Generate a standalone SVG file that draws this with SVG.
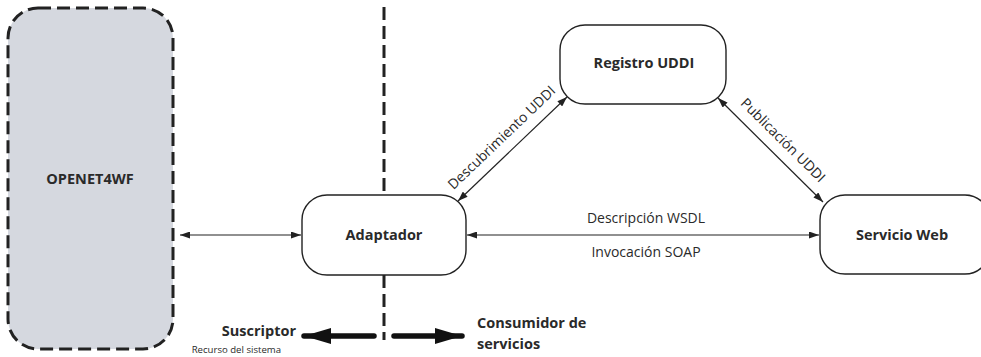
<svg xmlns="http://www.w3.org/2000/svg" width="981" height="357" viewBox="0 0 981 357">
<defs>
<style>
text{font-family:"Open Sans","Noto Sans","DejaVu Sans",sans-serif;fill:#2a2a2a}
.b{font-weight:bold;font-size:14.5px}
.r{font-size:14px}
.node{fill:#fff;stroke:#222;stroke-width:1.4}
.conn{stroke:#222;stroke-width:1.2;fill:none;marker-start:url(#ah);marker-end:url(#ah)}
.dash{stroke:#222;stroke-width:3;stroke-dasharray:13 6;fill:none}
.role{font-weight:bold;font-size:14.5px}
</style>
<marker id="ah" viewBox="0 0 10 10" refX="10" refY="5" markerWidth="10" markerHeight="7" markerUnits="userSpaceOnUse" orient="auto-start-reverse" preserveAspectRatio="none">
<path d="M0,0 L10,5 L0,10 Z" fill="#222"/>
</marker>
<marker id="big" viewBox="0 0 10 10" refX="10" refY="5" markerWidth="27" markerHeight="16" markerUnits="userSpaceOnUse" orient="auto" preserveAspectRatio="none">
<path d="M0,0 L10,5 L0,10 Z" fill="#111"/>
</marker>
</defs>

<g id="openet">
<rect x="8" y="8" width="165" height="341" rx="30" fill="#d5d8df" stroke="#222" stroke-width="3" stroke-dasharray="13 6"/>
<text class="b" x="90" y="184" text-anchor="middle">OPENET4WF</text>
</g>

<g id="divider">
<line class="dash" x1="384" y1="7" x2="384" y2="195"/>
<line class="dash" x1="384" y1="275" x2="384" y2="340"/>
</g>

<g id="adaptador">
<rect class="node" x="302" y="195" width="164" height="80" rx="25"/>
<text class="b" x="384" y="240" text-anchor="middle">Adaptador</text>
</g>

<g id="registro">
<rect class="node" x="560" y="25" width="166" height="79" rx="25"/>
<text class="b" x="644" y="68" text-anchor="middle">Registro UDDI</text>
</g>

<g id="servicio">
<rect class="node" x="820" y="195" width="170" height="79" rx="25"/>
<text class="b" x="902" y="240" text-anchor="middle">Servicio Web</text>
</g>

<g id="connectors">
<line class="conn" x1="180" y1="235" x2="301" y2="235"/>
<line class="conn" x1="467" y1="235" x2="819" y2="235"/>
<line class="conn" x1="458" y1="201" x2="567" y2="97"/>
<line class="conn" x1="718" y1="98" x2="823" y2="202"/>
<text class="r" x="646" y="223" text-anchor="middle">Descripción WSDL</text>
<text class="r" x="646" y="257" text-anchor="middle">Invocación SOAP</text>
<text class="r" transform="translate(512.5,149) rotate(-43.7)" x="0" y="-11" text-anchor="middle">Descubrimiento UDDI</text>
<text class="r" transform="translate(770.5,150) rotate(44.7)" x="2" y="-11" text-anchor="middle">Publicación UDDI</text>
</g>

<g id="roles">
<line x1="374" y1="336" x2="304" y2="336" stroke="#111" stroke-width="5.5" stroke-linecap="round" marker-end="url(#big)"/>
<line x1="394" y1="336" x2="462" y2="336" stroke="#111" stroke-width="5.5" stroke-linecap="round" marker-end="url(#big)"/>
<text class="role" x="296" y="336" text-anchor="end">Suscriptor</text>
<text x="281" y="353" text-anchor="end" style="font-size:9.6px">Recurso del sistema</text>
<text class="role" x="477" y="328">Consumidor de</text>
<text class="role" x="477" y="349">servicios</text>
</g>
</svg>
